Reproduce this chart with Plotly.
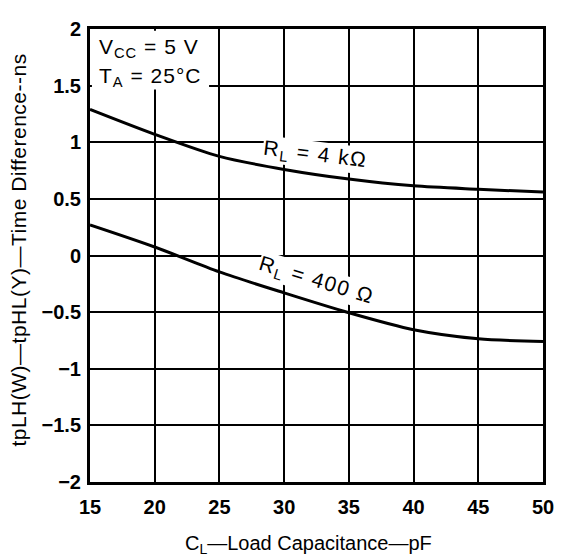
import plotly.graph_objects as go

# Data
cl_pf = [15, 20, 25, 30, 35, 40, 45, 50]
rl_4k = [1.29, 1.07, 0.875, 0.76, 0.675, 0.615, 0.585, 0.56]
rl_400 = [0.27, 0.075, -0.145, -0.33, -0.505, -0.655, -0.735, -0.76]

x_ticks = [15, 20, 25, 30, 35, 40, 45, 50]
y_ticks = [-2, -1.5, -1, -0.5, 0, 0.5, 1, 1.5, 2]
y_tick_text = ["\u22122", "\u22121.5", "\u22121", "\u22120.5", "0", "0.5", "1", "1.5", "2"]

FONT = "Liberation Sans, Arial, Helvetica, sans-serif"

# Page body has an 8px default margin, so the figure is made 8px smaller
# and the plot area placed so it lands where the reference's is.
W, H = 556, 552
ML, MT, PW, PH = 82, 10, 459, 464
PX0, PY0 = 90, 18          # plot-area origin on the page (screen px)


def px(sx):
    return (sx - PX0) / PW


def py(sy):
    return (PY0 + PH - sy) / PH


fig = go.Figure()
for ys in (rl_4k, rl_400):
    fig.add_trace(go.Scatter(
        x=cl_pf, y=ys, mode="lines",
        line=dict(color="black", width=3, shape="spline", smoothing=0.8),
        showlegend=False, hoverinfo="skip",
    ))

fig.update_layout(
    width=W, height=H,
    margin=dict(l=ML, r=W - ML - PW, t=MT, b=H - MT - PH),
    paper_bgcolor="white", plot_bgcolor="white",
    font=dict(family=FONT, color="black", size=20),
    showlegend=False,
)

fig.update_xaxes(
    range=[15, 50], tickvals=x_ticks, ticktext=[str(v) for v in x_ticks],
    showgrid=True, gridcolor="black", gridwidth=2,
    showline=True, linecolor="black", linewidth=3, mirror=True,
    zeroline=False, ticks="", ticklabelstandoff=5,
    tickfont=dict(size=20, family=FONT, color="black", weight="bold"),
)
fig.update_yaxes(
    range=[-2, 2], tickvals=y_ticks, ticktext=y_tick_text,
    showgrid=True, gridcolor="black", gridwidth=2,
    showline=True, linecolor="black", linewidth=3, mirror=True,
    zeroline=False, ticks="", ticklabelstandoff=2,
    tickfont=dict(size=20, family=FONT, color="black", weight="bold"),
)

# White box behind the conditions text
fig.add_shape(type="rect", xref="x", yref="y",
              x0=15.15, x1=24.2, y0=1.465, y1=1.985,
              fillcolor="white", line=dict(width=0), layer="above")

SP = '<span style="letter-spacing:1px">'
fig.add_annotation(x=px(97), y=py(37), xref="paper", yref="paper",
                   xanchor="left", yanchor="middle",
                   text=SP + "V<sub>CC</sub> = 5 V</span>", showarrow=False,
                   font=dict(size=21, family=FONT, color="black"))
fig.add_annotation(x=px(97), y=py(67), xref="paper", yref="paper",
                   xanchor="left", yanchor="middle",
                   text=SP + "T<sub>A</sub> = 25°C</span>", showarrow=False,
                   font=dict(size=21, family=FONT, color="black"))

# Curve labels
SP2 = '<span style="letter-spacing:1.5px">'
fig.add_annotation(x=px(318), y=py(147), xref="paper", yref="paper",
                   xanchor="center", yanchor="middle",
                   text=SP2 + "R<sub>L</sub> = 4 k\u03a9</span>", showarrow=False, textangle=7,
                   bgcolor="white", borderpad=0,
                   font=dict(size=21, family=FONT, color="black"))
fig.add_annotation(x=px(320), y=py(276), xref="paper", yref="paper",
                   xanchor="center", yanchor="middle",
                   text=SP2 + "R<sub>L</sub> = 400 \u03a9</span>", showarrow=False, textangle=17,
                   bgcolor="white", borderpad=0,
                   font=dict(size=21, family=FONT, color="black"))

# Axis titles
fig.add_annotation(x=px(311), y=py(546), xref="paper", yref="paper",
                   text="C<sub>L</sub>\u2014Load Capacitance\u2014pF", showarrow=False,
                   xanchor="center", yanchor="middle",
                   font=dict(size=20, family=FONT, color="black"))
fig.add_annotation(x=px(18), y=py(244), xref="paper", yref="paper",
                   text='<span style="letter-spacing:0.5px">'
                        "tpLH(W)\u2014tpHL(Y)\u2014Time Difference--ns</span>",
                   showarrow=False,
                   textangle=-90, xanchor="center", yanchor="middle",
                   font=dict(size=21, family=FONT, color="black"))

fig.write_html("out.html")
